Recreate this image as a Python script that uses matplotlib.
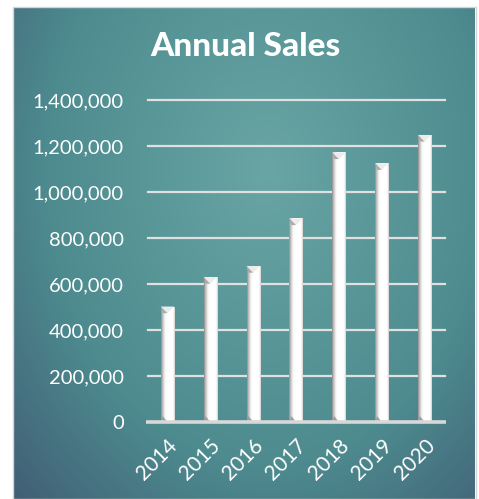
import numpy as np
import matplotlib
matplotlib.use("Agg")
import matplotlib.pyplot as plt
from matplotlib.patches import Polygon, Rectangle
from matplotlib.colors import LinearSegmentedColormap

years = ["2014", "2015", "2016", "2017", "2018", "2019", "2020"]
sales = [502000, 630000, 678000, 885000, 1172000, 1125000, 1248000]
yticks = [0, 200000, 400000, 600000, 800000, 1000000, 1200000, 1400000]
title = "Annual Sales"

plt.rcParams['font.family'] = ['Lato', 'DejaVu Sans']

W, H = 479, 499
fig = plt.figure(figsize=(W / 100, H / 100), dpi=100)
fig.patch.set_facecolor("white")

# panel background with gradient (styling only)
px0, px1, py0, py1 = 14, 475, 8, 499
bg = fig.add_axes([px0 / W, 0, (px1 - px0) / W, (py1 - py0) / H], zorder=0)
ny, nx = 300, 300
yy, xx = np.mgrid[0:1:ny * 1j, 0:1:nx * 1j]
d = np.sqrt(((xx - 0.55) / 0.8) ** 2 + ((yy - 0.33) / 1.0) ** 2)
d = np.clip(d, 0, 1)
center = np.array([0x69, 0xa5, 0xa4]) / 255
mid = np.array([0x4d, 0x8b, 0x8f]) / 255
edge = np.array([0x40, 0x5a, 0x72]) / 255
t = d[..., None]
img = np.where(t < 0.6, center + (mid - center) * (t / 0.6),
               mid + (edge - mid) * ((t - 0.6) / 0.4))
bg.imshow(img, extent=[0, 1, 1, 0], aspect="auto", interpolation="bilinear")
bg.set_xlim(0, 1)
bg.set_ylim(1, 0)
bg.axis("off")
fig.add_artist(Rectangle((px0 / W - 1 / W, 0), (px1 - px0 + 2) / W, (py1 - py0 + 1) / H,
                         transform=fig.transFigure, fill=False, edgecolor="#d4d4d4", lw=1, zorder=0.5))

ax = fig.add_axes([146 / W, (H - 422) / H, 300 / W, 322 / H], zorder=2)
ax.patch.set_alpha(0)
x = np.arange(len(years))
ax.set_xlim(-0.5, len(years) - 0.5)
ax.set_ylim(0, 1400000)

for v in yticks[1:]:
    ax.axhline(v, xmin=0.005, xmax=0.995, color="#e0e0e0", lw=1.6, zorder=1, clip_on=False)
ax.plot([-0.5 + 0.01, len(years) - 0.5], [0, 0], color="#d8d8d8", lw=2.6, zorder=4,
        solid_capstyle="butt", clip_on=False)

bw = 0.31
bars = ax.bar(x, sales, width=bw, color="white", edgecolor="none", zorder=3)
fig.canvas.draw()
grad_cmap = LinearSegmentedColormap.from_list(
    "bev", [(0, "#8a8a8a"), (0.1, "#bdbdbd"), (0.28, "#f6f6f6"), (0.4, "#ffffff"),
            (0.88, "#ffffff"), (1.0, "#cfcfcf")])
grad = np.linspace(0, 1, 64)[None, :]
px_per_x = ax.transData.transform((1, 0))[0] - ax.transData.transform((0, 0))[0]
px_per_y = ax.transData.transform((0, 1e6))[1] - ax.transData.transform((0, 0))[1]
for b in bars:
    x0, w, h = b.get_x(), b.get_width(), b.get_height()
    im = ax.imshow(grad, cmap=grad_cmap, extent=[x0, x0 + w, 0, h], aspect="auto",
                   zorder=3.1, interpolation="bilinear")
    im.set_clip_path(b)
    depth = (w * px_per_x * 0.5) / px_per_y * 1e6
    ax.add_patch(Polygon([[x0, h], [x0 + w / 2, h - depth], [x0 + w, h]], closed=True,
                         facecolor="#ececec", edgecolor="none", zorder=3.2))
    ax.add_patch(Polygon([[x0, h], [x0 + w / 2, h - depth], [x0 + w * 0.15, h - depth]], closed=True,
                         facecolor="#ababab", edgecolor="none", zorder=3.2))
    ax.add_patch(Polygon([[x0, 0], [x0 + w * 0.5, 0], [x0 + w * 0.15, depth * 0.9]], closed=True,
                         facecolor="#9e9e9e", edgecolor="none", zorder=3.2))

ax.set_yticks(yticks)
ax.set_yticklabels([f"{v:,}" for v in yticks])
ax.set_xticks(x)
ax.set_xticklabels(years, rotation=45, ha="right", rotation_mode="anchor")
ax.tick_params(axis="y", length=0, pad=16, labelsize=14.5, labelcolor="white")
ax.tick_params(axis="x", length=0, pad=10, labelsize=15, labelcolor="white")
for s in ax.spines.values():
    s.set_visible(False)
for lab in ax.get_xticklabels():
    lab.set_va("top")

fig.text(245 / W, 1 - 47 / H, title, ha="center", va="center", color="white",
         fontsize=24, fontweight="black")

fig.savefig("out.png", dpi=100, facecolor="white")
